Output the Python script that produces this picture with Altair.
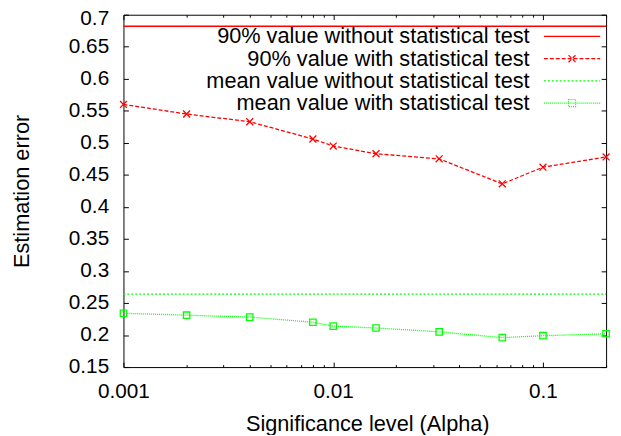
import altair as alt
import pandas as pd

# ---- data ----
alpha = [0.001, 0.002, 0.004, 0.008, 0.01, 0.016, 0.032, 0.064, 0.1, 0.2]
p90_with = [0.560, 0.545, 0.533, 0.506, 0.495, 0.483, 0.475, 0.436, 0.462, 0.478]
mean_with = [0.234, 0.231, 0.228, 0.220, 0.214, 0.211, 0.205, 0.196, 0.199, 0.202]
p90_without = 0.682
mean_without = 0.264
alpha_range = [0.001, 0.2]

series_names = [
    "90% value without statistical test",
    "90% value with statistical test",
    "mean value without statistical test",
    "mean value with statistical test",
]
series_colors = ["#ff0000", "#ff0000", "#00ff00", "#00ff00"]

x_major = [0.001, 0.01, 0.1]
x_minor = [0.002, 0.003, 0.004, 0.005, 0.006, 0.007, 0.008, 0.009,
           0.02, 0.03, 0.04, 0.05, 0.06, 0.07, 0.08, 0.09, 0.2]
y_ticks = [0.15, 0.2, 0.25, 0.3, 0.35, 0.4, 0.45, 0.5, 0.55, 0.6, 0.65, 0.7]

rows = []
for a in alpha_range:
    rows.append({"series": series_names[0], "alpha": a, "value": p90_without})
for a, v in zip(alpha, p90_with):
    rows.append({"series": series_names[1], "alpha": a, "value": v})
for a in alpha_range:
    rows.append({"series": series_names[2], "alpha": a, "value": mean_without})
for a, v in zip(alpha, mean_with):
    rows.append({"series": series_names[3], "alpha": a, "value": v})
df = pd.DataFrame(rows)

FONT = "Liberation Sans"
xscale = alt.Scale(type="log", domain=[0.001, 0.2], nice=False)
yscale = alt.Scale(domain=[0.15, 0.7], nice=False, zero=False)

dash_range = [[1, 0], [4, 2], [2, 2], [1, 1]]
legend_paths = [
    "M-4.75,0H4.75",
    "M-4.75,0H4.75M-0.6,-0.6L0.6,0.6M-0.6,0.6L0.6,-0.6",
    "M-4.75,0H4.75",
    "M-4.75,0H4.75M-0.6,-0.6H0.6V0.6H-0.6Z",
]
cross_path = "M-1,-1L1,1M-1,1L1,-1"

common_axis = dict(domain=False, grid=False, labelFlush=False, labelOverlap=False,
                   tickColor="black", tickWidth=1, labelFont=FONT, labelFontSize=21,
                   labelColor="black", titleFont=FONT, titleFontSize=22,
                   titleColor="black", titleFontWeight="normal")

base = alt.Chart(df)

legend_spec = alt.Legend(title=None, orient="none", legendX=443.5, legendY=11,
                         padding=0, rowPadding=0.5, labelAlign="right",
                         labelOffset={"expr": "-54"}, symbolOffset=0, labelLimit=400,
                         labelFont=FONT, labelFontSize=22, labelColor="black",
                         symbolSize=144, symbolStrokeWidth=1.2,
                         symbolFillColor="transparent", symbolOpacity=1)

# legend carrier (invisible points) + top minor ticks  -- first, so its legend wins
legend_layer = base.mark_point(filled=False, opacity=0, strokeWidth=1.2).encode(
    x=alt.X("alpha:Q", scale=xscale, axis=alt.Axis(
        orient="top", values=x_minor, labels=False, tickSize={"expr": "-2.5"}, title=None, **common_axis)),
    y=alt.Y("value:Q", scale=yscale, axis=None),
    color=alt.Color("series:N", scale=alt.Scale(domain=series_names, range=series_colors), legend=legend_spec),
    strokeDash=alt.StrokeDash("series:N", scale=alt.Scale(domain=series_names, range=dash_range), legend=legend_spec),
    shape=alt.Shape("series:N", scale=alt.Scale(domain=series_names, range=legend_paths), legend=legend_spec),
)

# line layer with main axes
lines = base.mark_line(strokeWidth=1.3).encode(
    x=alt.X("alpha:Q", scale=xscale, axis=alt.Axis(
        orient="bottom", values=x_major, format=".3~f", tickSize={"expr": "-5"},
        labelPadding=19, title="Significance level (Alpha)", titleX=247, titleY=64,
        titleBaseline="alphabetic", titleAlign="center", titleAngle=0, **common_axis)),
    y=alt.Y("value:Q", scale=yscale, axis=alt.Axis(
        orient="left", values=y_ticks, format=".2~f", tickSize={"expr": "-5"},
        labelPadding=20,
        labelOffset={"condition": {"test": "datum.value > 0.69", "value": 4}, "value": 0},
        title="Estimation error", titleX=-96, titleY=178.5,
        titleAngle=270, titleBaseline="alphabetic", titleAlign="center", **common_axis)),
    color=alt.Color("series:N", scale=alt.Scale(domain=series_names, range=series_colors), legend=legend_spec),
    strokeDash=alt.StrokeDash("series:N", scale=alt.Scale(domain=series_names, range=dash_range), legend=legend_spec),
    detail="series:N",
)

# cross markers (mirror axes: top major / right major)
crosses = base.transform_filter(
    alt.datum.series == series_names[1]
).mark_point(shape=cross_path, size=49, filled=False, strokeWidth=1.3, opacity=1, color="#ff0000").encode(
    x=alt.X("alpha:Q", scale=xscale, axis=alt.Axis(
        orient="top", values=x_major, labels=False, tickSize={"expr": "-5"}, title=None, **common_axis)),
    y=alt.Y("value:Q", scale=yscale, axis=alt.Axis(
        orient="right", values=y_ticks, labels=False, tickSize={"expr": "-5"}, title=None, **common_axis)),
)

# square markers (bottom minor ticks)
squares = base.transform_filter(
    alt.datum.series == series_names[3]
).mark_point(shape="square", size=42, filled=False, strokeWidth=1.3, opacity=1, color="#00ff00").encode(
    x=alt.X("alpha:Q", scale=xscale, axis=alt.Axis(
        orient="bottom", values=x_minor, labels=False, tickSize={"expr": "-2.5"}, title=None, **common_axis)),
    y=alt.Y("value:Q", scale=yscale, axis=None),
)

chart = alt.layer(legend_layer, lines, crosses, squares).resolve_axis(
    x="independent", y="independent"
).properties(
    width=489, height=357,
    autosize=alt.AutoSizeParams(type="none"),
    padding={"left": 117, "top": 4, "right": 7, "bottom": 66},
    background="white",
).configure_view(stroke="black", strokeWidth=1)

chart.save("out.html", embed_options={"renderer": "svg", "actions": False})
